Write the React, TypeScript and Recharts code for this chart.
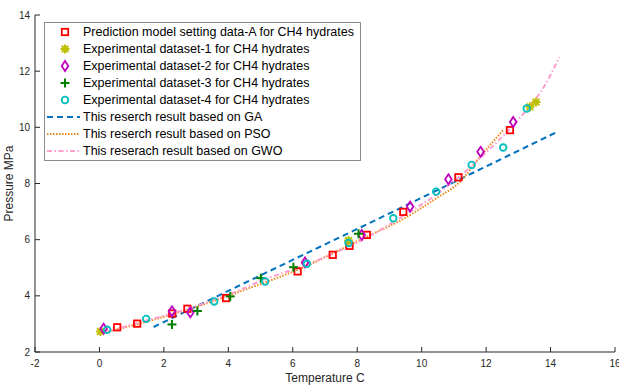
import React from 'react';
import { ComposedChart, XAxis, YAxis, Scatter, Line, Legend } from 'recharts';

const xTicks = [-2, 0, 2, 4, 6, 8, 10, 12, 14, 16];
const yTicks = [2, 4, 6, 8, 10, 12, 14];

const predT = [0.55, 1.17, 2.26, 2.73, 3.93, 6.15, 7.24, 7.76, 8.3, 9.43, 11.14, 12.74];
const predP = [2.88, 3.01, 3.37, 3.54, 3.92, 4.87, 5.46, 5.78, 6.17, 6.99, 8.22, 9.9];

const ds1T = [0.03, 7.73, 13.36, 13.55];
const ds1P = [2.73, 5.97, 10.73, 10.9];

const ds2T = [0.13, 2.25, 2.82, 6.38, 8.14, 9.64, 10.83, 11.83, 12.84];
const ds2P = [2.83, 3.45, 3.41, 5.19, 6.17, 7.18, 8.15, 9.13, 10.19];

const ds3T = [2.25, 3.04, 4.06, 5.01, 6.02, 8.04];
const ds3P = [2.98, 3.46, 3.98, 4.63, 5.02, 6.21];

const ds4T = [0.24, 1.45, 3.56, 5.14, 6.44, 7.73, 9.12, 10.45, 11.55, 12.53, 13.26];
const ds4P = [2.79, 3.18, 3.8, 4.51, 5.14, 5.88, 6.76, 7.71, 8.66, 9.28, 10.67];

const gaT = [1.68, 5.0, 8.9, 11.0, 14.21];
const gaP = [2.89, 4.73, 6.88, 8.05, 9.84];

const psoT = [0, 1.3, 2.8, 4.3, 6.3, 8.1, 9.4, 10.45, 11.19, 11.81, 12.53];
const psoP = [2.65, 3.03, 3.53, 4.13, 5.0, 6.0, 6.72, 7.47, 8.06, 8.95, 9.9];

const gwoT = [0, 1.27, 2.82, 4.32, 5.09, 6.33, 8.4, 9.43, 10.45, 11.19, 12.0, 12.74, 13.3, 13.8, 14.27];
const gwoP = [2.65, 3.06, 3.57, 4.19, 4.57, 5.07, 6.14, 6.85, 7.6, 8.27, 9.1, 9.95, 10.68, 11.45, 12.5];

const legendLabels = [
  'Prediction model setting data-A for CH4 hydrates',
  'Experimental dataset-1 for CH4 hydrates',
  'Experimental dataset-2 for CH4 hydrates',
  'Experimental dataset-3 for CH4 hydrates',
  'Experimental dataset-4 for CH4 hydrates',
  'This reserch result based on GA',
  'This reserch result based on PSO',
  'This reserach result based on GWO',
];

const FONT = '"Liberation Sans", Arial, Helvetica, sans-serif';
const AXIS = '#262626';
const C_RED = '#ff0000';
const C_YEL = '#bfbf00';
const C_PUR = '#bf00bf';
const C_GRN = '#008000';
const C_CYN = '#00bfbf';
const C_GA = '#0072bd';
const C_PSO = '#ee8a1d';
const C_GWO = '#ff9ecf';

const toPts = (t: number[], p: number[]) => t.map((x, i) => ({ x, y: p[i] }));

type Kind = 'square' | 'asterisk' | 'diamond' | 'plus' | 'circle';

function drawMarker(kind: Kind, cx: number, cy: number) {
  switch (kind) {
    case 'square':
      return <rect x={cx - 3.2} y={cy - 3.2} width={6.4} height={6.4} fill="none" stroke={C_RED} strokeWidth={1.8} />;
    case 'asterisk':
      return (
        <g stroke={C_YEL} strokeWidth={2}>
          <line x1={cx - 4.5} y1={cy} x2={cx + 4.5} y2={cy} />
          <line x1={cx} y1={cy - 4.5} x2={cx} y2={cy + 4.5} />
          <line x1={cx - 3.3} y1={cy - 3.3} x2={cx + 3.3} y2={cy + 3.3} />
          <line x1={cx - 3.3} y1={cy + 3.3} x2={cx + 3.3} y2={cy - 3.3} />
        </g>
      );
    case 'diamond':
      return (
        <polygon
          points={`${cx},${cy - 5} ${cx + 3.3},${cy} ${cx},${cy + 5} ${cx - 3.3},${cy}`}
          fill="none"
          stroke={C_PUR}
          strokeWidth={1.8}
        />
      );
    case 'plus':
      return (
        <g stroke={C_GRN} strokeWidth={2}>
          <line x1={cx - 4.5} y1={cy} x2={cx + 4.5} y2={cy} />
          <line x1={cx} y1={cy - 4.5} x2={cx} y2={cy + 4.5} />
        </g>
      );
    case 'circle':
    default:
      return <circle cx={cx} cy={cy} r={3.3} fill="none" stroke={C_CYN} strokeWidth={1.8} />;
  }
}

const shapeOf = (kind: Kind) => (props: any) => drawMarker(kind, props.cx, props.cy);

const BottomTick = (props: any) => {
  const { x, y, payload } = props;
  return (
    <g>
      <line x1={x} y1={y} x2={x} y2={y - 5} stroke={AXIS} strokeWidth={1} />
      <text x={x} y={y + 15} textAnchor="middle" fontSize={10} fill={AXIS} fontFamily={FONT}>
        {payload.value}
      </text>
    </g>
  );
};
const TopTick = (props: any) => {
  const { x, y } = props;
  return <line x1={x} y1={y} x2={x} y2={y + 5} stroke={AXIS} strokeWidth={1} />;
};
const LeftTick = (props: any) => {
  const { x, y, payload } = props;
  return (
    <g>
      <line x1={x} y1={y} x2={x + 5} y2={y} stroke={AXIS} strokeWidth={1} />
      <text x={x - 5} y={y + 3.5} textAnchor="end" fontSize={10} fill={AXIS} fontFamily={FONT}>
        {payload.value}
      </text>
    </g>
  );
};
const RightTick = (props: any) => {
  const { x, y } = props;
  return <line x1={x} y1={y} x2={x - 5} y2={y} stroke={AXIS} strokeWidth={1} />;
};

const markerKinds: Kind[] = ['square', 'asterisk', 'diamond', 'plus', 'circle'];
const lineStyles = [
  { stroke: C_GA, dash: '6 4' },
  { stroke: C_PSO, dash: '1.5 1.5' },
  { stroke: C_GWO, dash: '5 2.5 1.5 2.5' },
];

const LegendBox = () => (
  <div style={{ width: 317, height: 139, border: '1px solid #8c8c8c', background: '#fff', boxSizing: 'border-box' }}>
    <svg width={315} height={137} style={{ display: 'block' }}>
      {legendLabels.map((lab, i) => {
        const cy = 9 + i * 17;
        return (
          <g key={lab}>
            {i < 5
              ? drawMarker(markerKinds[i], 20, cy)
              : (
                <line
                  x1={2}
                  y1={cy}
                  x2={35}
                  y2={cy}
                  stroke={lineStyles[i - 5].stroke}
                  strokeWidth={2}
                  strokeDasharray={lineStyles[i - 5].dash}
                />
              )}
            <text x={38} y={cy + 4.3} fontSize={12.5} fill="#000" fontFamily={FONT}>
              {lab}
            </text>
          </g>
        );
      })}
    </svg>
  </div>
);

export default function App() {
  return (
    <div style={{ position: 'absolute', left: 0, top: 0, width: 619, height: 385, background: '#fff' }}>
      <ComposedChart width={619} height={385} margin={{ top: 15, right: 4, bottom: 0, left: 0 }}>
        <XAxis
          dataKey="x"
          type="number"
          domain={[-2, 16]}
          ticks={xTicks}
          interval={0}
          allowDataOverflow
          height={33}
          tickSize={0}
          tickMargin={0}
          tickLine={false}
          tick={<BottomTick />}
          axisLine={{ stroke: AXIS, strokeWidth: 1 }}
          label={{ value: 'Temperature C', position: 'insideBottom', offset: 3, fontSize: 12, fill: AXIS, fontFamily: FONT }}
        />
        <XAxis
          xAxisId="top"
          orientation="top"
          type="number"
          domain={[-2, 16]}
          ticks={xTicks}
          interval={0}
          allowDataOverflow
          height={0}
          tickSize={0}
          tickMargin={0}
          tickLine={false}
          tick={<TopTick />}
          axisLine={{ stroke: AXIS, strokeWidth: 1 }}
        />
        <YAxis
          dataKey="y"
          type="number"
          domain={[2, 14]}
          ticks={yTicks}
          interval={0}
          allowDataOverflow
          width={35}
          tickSize={0}
          tickMargin={0}
          tickLine={false}
          tick={<LeftTick />}
          axisLine={{ stroke: AXIS, strokeWidth: 1 }}
          label={{
            content: (p: any) => {
              const vb = p.viewBox;
              const cx = 9;
              const cy = vb.y + vb.height / 2;
              return (
                <text
                  x={cx}
                  y={cy}
                  transform={`rotate(-90, ${cx}, ${cy})`}
                  textAnchor="middle"
                  dominantBaseline="central"
                  fontSize={12}
                  fill={AXIS}
                  fontFamily={FONT}
                >
                  Pressure MPa
                </text>
              );
            },
          }}
        />
        <YAxis
          yAxisId="right"
          orientation="right"
          type="number"
          domain={[2, 14]}
          ticks={yTicks}
          interval={0}
          allowDataOverflow
          width={0}
          tickSize={0}
          tickMargin={0}
          tickLine={false}
          tick={<RightTick />}
          axisLine={{ stroke: AXIS, strokeWidth: 1 }}
        />
        <Scatter name={legendLabels[0]} data={toPts(predT, predP)} dataKey="y" shape={shapeOf('square')} isAnimationActive={false} />
        <Scatter name={legendLabels[1]} data={toPts(ds1T, ds1P)} dataKey="y" shape={shapeOf('asterisk')} isAnimationActive={false} />
        <Scatter name={legendLabels[2]} data={toPts(ds2T, ds2P)} dataKey="y" shape={shapeOf('diamond')} isAnimationActive={false} />
        <Scatter name={legendLabels[3]} data={toPts(ds3T, ds3P)} dataKey="y" shape={shapeOf('plus')} isAnimationActive={false} />
        <Scatter name={legendLabels[4]} data={toPts(ds4T, ds4P)} dataKey="y" shape={shapeOf('circle')} isAnimationActive={false} />
        <Line name={legendLabels[5]} data={toPts(gaT, gaP)} dataKey="y" type="monotone" stroke={C_GA} strokeWidth={2} strokeDasharray="6 4" dot={false} activeDot={false} isAnimationActive={false} />
        <Line name={legendLabels[6]} data={toPts(psoT, psoP)} dataKey="y" type="monotone" stroke={C_PSO} strokeWidth={2} strokeDasharray="1.5 1.5" dot={false} activeDot={false} isAnimationActive={false} />
        <Line name={legendLabels[7]} data={toPts(gwoT, gwoP)} dataKey="y" type="monotone" stroke={C_GWO} strokeWidth={2} strokeDasharray="5 2.5 1.5 2.5" dot={false} activeDot={false} isAnimationActive={false} />
        <Legend
          layout="vertical"
          verticalAlign="middle"
          align="center"
          wrapperStyle={{ position: 'absolute', left: 44, top: 22, width: 317, height: 139, margin: 0 }}
          content={() => <LegendBox />}
        />
      </ComposedChart>
    </div>
  );
}
